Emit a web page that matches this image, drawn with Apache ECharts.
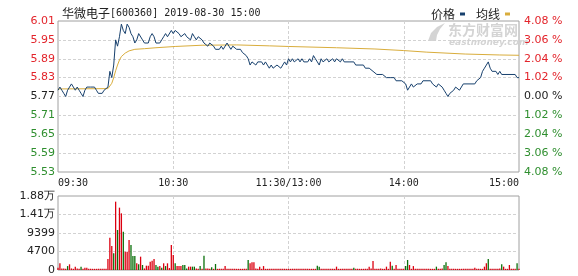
<!DOCTYPE html>
<html><head><meta charset="utf-8">
<script src="https://cdn.jsdelivr.net/npm/echarts@6/dist/echarts.min.js"></script>
<style>html,body{margin:0;padding:0;background:#fff}#c{width:578px;height:276px}</style>
</head><body><div id="c"></div>
<script>
const stockName = '华微电子';
const stockInfo = '[600360] 2019-08-30 15:00';
const timeLabels = ['09:30','10:30','11:30/13:00','14:00','15:00'];
const priceTicks = ['5.53','5.59','5.65','5.71','5.77','5.83','5.89','5.95','6.01'];
const pctTicks = ['4.08 %','3.06 %','2.04 %','1.02 %','0.00 %','1.02 %','2.04 %','3.06 %','4.08 %'];
const volTicks = ['0','4700','9399','1.41万','1.88万'];
const seriesNames = ['价格','均线'];

// [minute index from 09:30, price]
const price = [[0,5.79],[1,5.80],[2,5.79],[3,5.78],[4,5.77],[5,5.79],[6,5.80],[7,5.81],[8,5.80],[9,5.79],[10,5.80],[11,5.79],[12,5.78],[13,5.77],[14,5.79],[15,5.80],[17,5.80],[19,5.80],[20,5.79],[21,5.78],[23,5.78],[24,5.79],[25,5.79],[26,5.80],
[27,5.85],[28,5.83],[29,5.87],[30,5.95],[31,5.93],[32,5.96],[33,6.00],[34,5.98],[35,5.97],[36,6.00],[37,5.99],[38,5.97],[39,5.96],[40,5.94],[41,5.95],[42,5.97],[43,5.97],[44,5.95],[45,5.94],[46,5.94],[47,5.94],[48,5.96],[49,5.97],[50,5.96],[51,5.94],[53,5.94],[54,5.95],[55,5.96],[56,5.97],[57,5.96],[58,5.96],[59,5.98],[60,5.97],[61,5.98],
[62,5.98],[63,5.97],[64,5.96],[65,5.96],[66,5.97],[67,5.96],[68,5.96],[69,5.95],[70,5.97],[71,5.96],[72,5.95],[73,5.96],[74,5.96],[75,5.95],[76,5.94],[77,5.94],[78,5.93],[79,5.94],[80,5.94],[81,5.93],[82,5.92],[83,5.92],[84,5.92],[85,5.93],[86,5.92],[87,5.92],[88,5.94],[89,5.93],[90,5.92],[91,5.93],[92,5.93],[93,5.92],[95,5.92],[96,5.91],[97,5.91],[98,5.90],[99,5.89],[100,5.87],[101,5.88],[102,5.88],[103,5.87],[104,5.88],[106,5.88],[107,5.87],[108,5.88],[109,5.87],[110,5.86],[111,5.87],[112,5.86],[113,5.86],[114,5.87],[115,5.87],[116,5.86],[117,5.87],[118,5.88],[119,5.87],[120,5.89],
[121,5.88],[122,5.89],[123,5.88],[124,5.88],[125,5.89],[126,5.88],[127,5.89],[128,5.88],[130,5.88],[131,5.89],[132,5.88],[133,5.90],[134,5.89],[135,5.88],[136,5.87],[137,5.89],[138,5.88],[139,5.88],[140,5.89],[141,5.88],[142,5.88],[143,5.89],[144,5.88],[145,5.89],[146,5.89],[147,5.88],[148,5.89],[149,5.88],[150,5.88],[152,5.88],[154,5.88],[155,5.87],[156,5.87],[159,5.87],[160,5.86],[162,5.86],[164,5.85],[166,5.84],[169,5.84],[171,5.83],[173,5.83],[175,5.83],[176,5.82],[179,5.82],[180,5.82],
[181,5.81],[182,5.79],[183,5.80],[184,5.81],[185,5.80],[186,5.80],[187,5.81],[189,5.81],[190,5.82],[194,5.82],[195,5.81],[196,5.81],[197,5.80],[198,5.81],[199,5.81],[200,5.80],[201,5.79],[202,5.78],[203,5.77],[204,5.78],[205,5.78],[206,5.79],[207,5.80],[208,5.80],[209,5.79],[210,5.80],[211,5.81],[217,5.81],[218,5.82],[219,5.82],[220,5.83],[221,5.85],[222,5.86],[223,5.87],[224,5.88],[225,5.86],[226,5.85],[228,5.85],[229,5.84],[230,5.85],[231,5.84],[238,5.84],[239,5.83],[240,5.83]];

const avgPrice = [[0,5.794],[26,5.795],[27,5.80],[28,5.812],[29,5.83],[30,5.852],[31,5.87],[32,5.886],[33,5.897],[35,5.908],[37,5.915],[40,5.92],[45,5.922],[51,5.925],[61,5.929],[75,5.933],[93,5.934],[110,5.931],[120,5.929],[145,5.925],[165,5.921],[180,5.916],[192,5.911],[212,5.905],[230,5.902],[240,5.901]];

// one value per minute, index 0..240
const volume = [
600,1700,400,400,300,1000,1440,400,300,850,
400,300,850,300,600,600,300,300,300,300,
300,300,300,300,300,300,2800,8200,6100,4240,
17360,10160,15840,14400,9740,4660,4660,7620,6350,3560,
3560,1700,1440,3390,1270,400,1100,1100,2100,2370,
2800,1270,850,1000,600,1700,1000,1700,500,6350,
3800,1700,1000,1000,1000,1270,1270,400,850,850,
850,850,400,300,1000,300,3600,400,400,300,
700,300,1520,300,300,300,300,1000,300,300,
300,300,300,300,300,300,300,300,300,2540,
1700,1950,1950,400,300,850,300,1000,300,300,
300,300,300,300,300,300,300,300,300,300,
300,300,300,300,300,300,300,300,300,300,
300,300,300,300,300,1100,850,300,300,300,
300,300,300,300,300,850,300,300,300,300,
300,300,300,300,600,300,300,300,300,300,
300,300,850,400,2290,300,300,300,400,300,
300,850,300,2120,1100,300,1270,300,300,300,
300,1000,2540,1270,300,1000,300,300,300,300,
300,300,300,300,300,300,300,850,300,300,
400,1270,1950,1000,300,300,300,300,300,300,
300,300,300,300,300,300,300,600,300,300,
300,300,850,1700,2800,300,300,300,300,300,
400,1440,850,300,300,1270,300,300,300,1700,
300];
const downMinutes = [5,12,29,31,34,38,39,40,42,44,51,52,54,56,61,65,66,67,70,71,74,76,80,82,99,135,136,154,174,181,182,197,201,202,224,231,239];

const RED = '#e3242b', GREEN = '#2f8f2f', BLACK = '#222';
const BAR_RED = '#dc0010', BAR_GREEN = '#0a700a';
const dashed = {color:'#d2d2d2', type:[3,2], width:1};
const signColor = v => { const n = Number(v); return n > 0 ? RED : (n < 0 ? GREEN : BLACK); };
const downSet = new Set(downMinutes);

const chart = echarts.init(document.getElementById('c'), null, {renderer:'canvas'});
chart.setOption({
  animation:false,
  backgroundColor:'#fff',
  title:{
    text:'{a|' + stockName + '}{b|' + stockInfo + '}',
    left:57, top:2,
    textStyle:{fontWeight:'normal', rich:{
      a:{fontFamily:'Noto Sans CJK SC', fontSize:12, color:BLACK, fontWeight:'normal'},
      b:{fontFamily:'DejaVu Sans Mono', fontSize:10, color:BLACK, fontWeight:'normal'}
    }}
  },
  legend:{
    data:seriesNames, right:63, top:3, align:'right', icon:'rect',
    itemWidth:5, itemHeight:3, itemGap:11, selectedMode:false,
    textStyle:{fontFamily:'Noto Sans CJK SC', fontSize:12, color:BLACK}
  },
  graphic:[
    {type:'polygon', z:0, shape:{points:[[428,41],[431,33],[437,27],[445,23],[440,29],[437,35],[436,41]]}, style:{fill:'#d4d4d4'}},
    {type:'text', z:0, left:448, top:23, style:{text:'东方财富网', fill:'#d4d4d4', font:'bold 14px "Noto Sans CJK SC"'}},
    {type:'text', z:0, left:449, top:38, style:{text:'eastmoney.com', fill:'#d4d4d4', font:'italic bold 9px "DejaVu Sans"'}}
  ],
  grid:[
    {left:58, right:59, top:21, height:151, show:true, borderColor:'#a0a0a0', borderWidth:1},
    {left:58, right:59, top:196, height:74, show:true, borderColor:'#a0a0a0', borderWidth:1}
  ],
  xAxis:[
    {gridIndex:0, type:'value', min:0, max:240, interval:60,
     axisLine:{show:false}, axisTick:{show:false},
     axisLabel:{formatter:v => timeLabels[Math.round(v/60)], margin:6, fontFamily:'DejaVu Sans Mono', fontSize:10, color:BLACK, alignMinLabel:'left', alignMaxLabel:'right'},
     splitLine:{show:true, showMinLine:false, showMaxLine:false, lineStyle:dashed}},
    {gridIndex:1, type:'value', min:0, max:240, interval:60,
     axisLine:{show:false}, axisTick:{show:false}, axisLabel:{show:false},
     splitLine:{show:true, showMinLine:false, showMaxLine:false, lineStyle:dashed}}
  ],
  yAxis:[
    {gridIndex:0, type:'value', min:-4, max:4, interval:1, position:'left',
     axisLine:{show:false}, axisTick:{show:false},
     axisLabel:{formatter:v => priceTicks[Math.round(v)+4], color:signColor, fontFamily:'DejaVu Sans', fontSize:11, margin:3},
     splitLine:{show:true, showMinLine:false, showMaxLine:false, lineStyle:dashed}},
    {gridIndex:0, type:'value', min:-4, max:4, interval:1, position:'right',
     axisLine:{show:false}, axisTick:{show:false},
     axisLabel:{formatter:v => pctTicks[Math.round(v)+4], color:signColor, fontFamily:'DejaVu Sans', fontSize:11, margin:5},
     splitLine:{show:false}},
    {gridIndex:0, type:'value', min:5.53, max:6.01, show:false, position:'left'},
    {gridIndex:1, type:'value', min:0, max:18800, interval:4700, position:'left',
     axisLine:{show:false}, axisTick:{show:false},
     axisLabel:{formatter:v => volTicks[Math.round(v/4700)], color:BLACK, fontFamily:'DejaVu Sans', fontSize:11, margin:3},
     splitLine:{show:true, showMinLine:false, showMaxLine:false, lineStyle:dashed}}
  ],
  series:[
    {name:seriesNames[0], type:'line', xAxisIndex:0, yAxisIndex:2, data:price, showSymbol:false, symbol:'none',
     lineStyle:{color:'#17406d', width:1}, itemStyle:{color:'#17406d'}, z:4},
    {name:seriesNames[1], type:'line', xAxisIndex:0, yAxisIndex:2, data:avgPrice, showSymbol:false, symbol:'none', smooth:false,
     lineStyle:{color:'#d9ad3c', width:1}, itemStyle:{color:'#d9ad3c'}, z:3},
    {name:'成交量', type:'bar', xAxisIndex:1, yAxisIndex:3, barWidth:1.3,
     data:volume.map((v,i) => [i, v]),
     itemStyle:{color:p => downSet.has(p.dataIndex) ? BAR_GREEN : BAR_RED}}
  ]
});
</script>
</body></html>
